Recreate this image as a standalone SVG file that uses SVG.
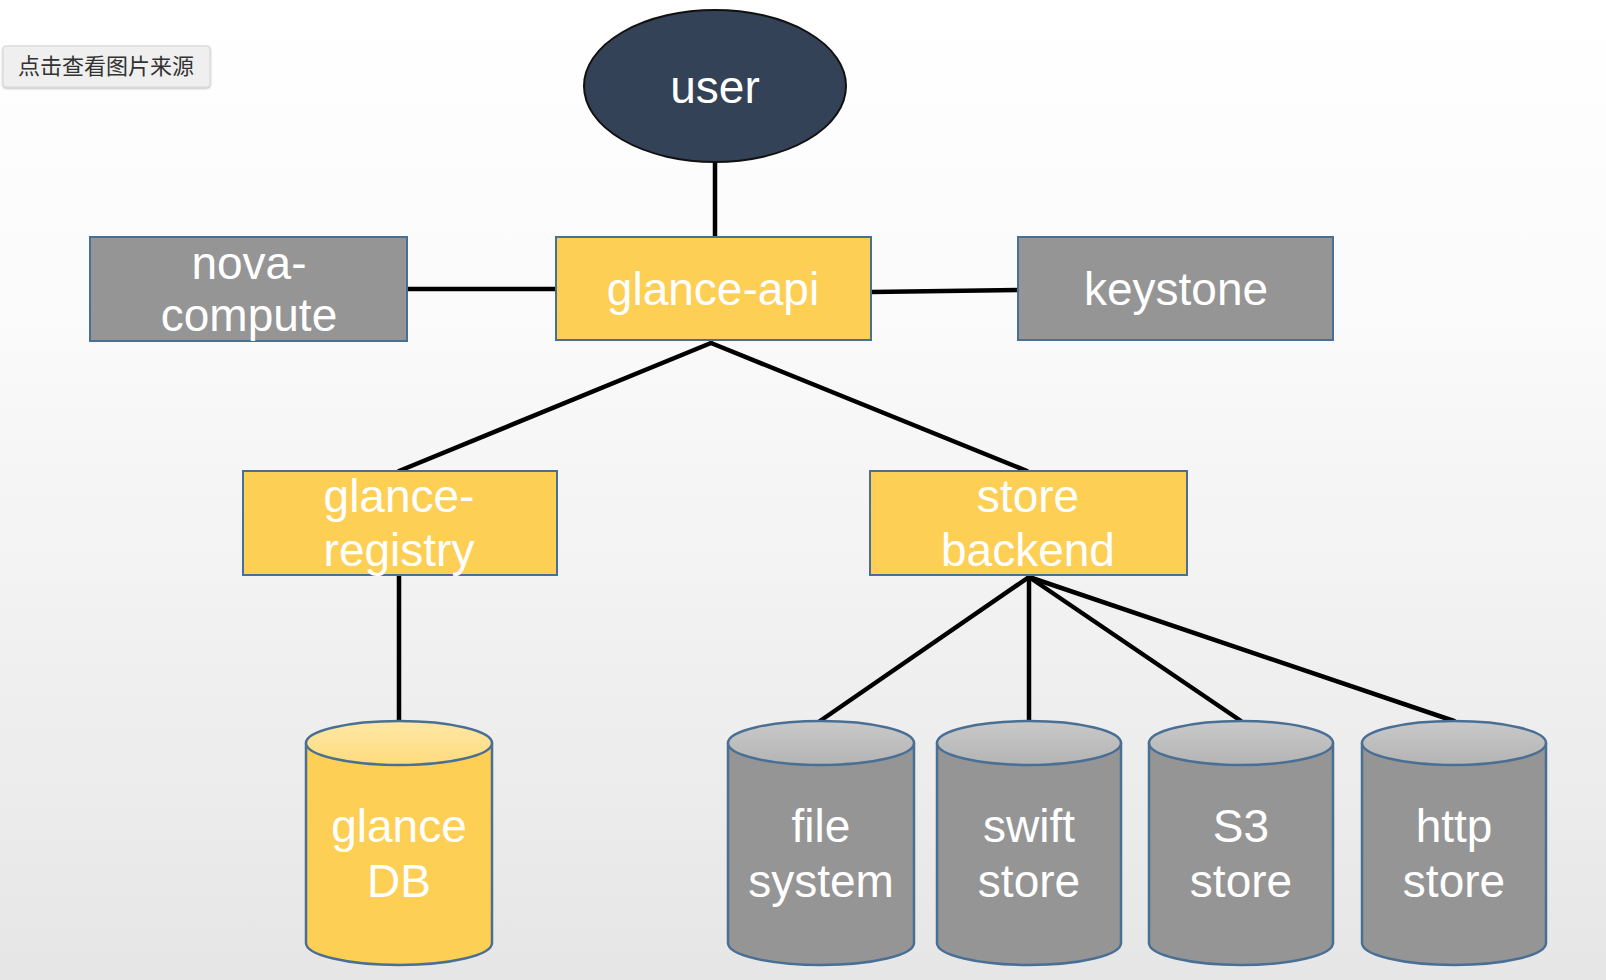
<svg xmlns="http://www.w3.org/2000/svg" width="1606" height="980" viewBox="0 0 1606 980">
<defs>
<linearGradient id="bg" x1="0" y1="0" x2="0" y2="1">
<stop offset="0" stop-color="#ffffff"/>
<stop offset="0.3" stop-color="#fbfbfb"/>
<stop offset="1" stop-color="#e6e6e6"/>
</linearGradient>
<linearGradient id="ytop" x1="0" y1="0" x2="0" y2="1">
<stop offset="0" stop-color="#ffe7a6"/>
<stop offset="1" stop-color="#fedc7c"/>
</linearGradient>
<linearGradient id="gtop" x1="0" y1="0" x2="0" y2="1">
<stop offset="0" stop-color="#c9c9c9"/>
<stop offset="1" stop-color="#b4b4b4"/>
</linearGradient>
<filter id="sh" x="-10%" y="-20%" width="120%" height="150%">
<feDropShadow dx="0" dy="1" stdDeviation="1.2" flood-color="#000" flood-opacity="0.3"/>
</filter>
</defs>
<style>
.t{font-family:"Liberation Sans",Arial,sans-serif;font-size:46px;fill:#ffffff;text-anchor:middle}
.ybox{fill:#fdcf55;stroke:#4a6f94;stroke-width:2}
.gbox{fill:#959595;stroke:#4a6f94;stroke-width:2}
.cyl{stroke:#4a6f94;stroke-width:2.5}
.ln{stroke:#000;stroke-width:4.5;fill:none;stroke-linecap:round}
.btn{font-family:"Noto Sans CJK SC","Liberation Sans",sans-serif;font-size:22px;fill:#333}
</style>
<rect width="1606" height="980" fill="url(#bg)"/>

<g id="source-button">
<rect x="3" y="46" width="207" height="41" rx="3" fill="#efefef" stroke="#d4d4d4" stroke-width="1" filter="url(#sh)"/>
<text class="btn" x="106" y="74" text-anchor="middle">点击查看图片来源</text>
</g>

<g id="connectors">
<line class="ln" x1="715" y1="159" x2="715" y2="237"/>
<line class="ln" x1="407" y1="289" x2="556" y2="289"/>
<line class="ln" x1="871" y1="292" x2="1018" y2="290"/>
<line class="ln" x1="711" y1="343" x2="399" y2="471"/>
<line class="ln" x1="711" y1="343" x2="1027" y2="471"/>
<line class="ln" x1="399" y1="576" x2="399" y2="721"/>
<line class="ln" x1="1029" y1="577" x2="820" y2="721"/>
<line class="ln" x1="1029" y1="577" x2="1029" y2="721"/>
<line class="ln" x1="1029" y1="577" x2="1241" y2="721"/>
<line class="ln" x1="1029" y1="577" x2="1454" y2="721"/>
</g>

<g id="user">
<ellipse cx="715" cy="86" rx="131" ry="76" fill="#334256" stroke="#111" stroke-width="2"/>
<text class="t" x="715" y="103">user</text>
</g>

<g id="nova-compute">
<rect class="gbox" x="90" y="237" width="317" height="104"/>
<text class="t" x="249" y="279">nova-</text>
<text class="t" x="249" y="331">compute</text>
</g>

<g id="glance-api">
<rect class="ybox" x="556" y="237" width="315" height="103"/>
<text class="t" x="713" y="305">glance-api</text>
</g>

<g id="keystone">
<rect class="gbox" x="1018" y="237" width="315" height="103"/>
<text class="t" x="1176" y="305">keystone</text>
</g>

<g id="glance-registry">
<rect class="ybox" x="243" y="471" width="314" height="104"/>
<text class="t" x="399" y="512">glance-</text>
<text class="t" x="399" y="566">registry</text>
</g>

<g id="store-backend">
<rect class="ybox" x="870" y="471" width="317" height="104"/>
<text class="t" x="1028" y="512">store</text>
<text class="t" x="1028" y="566">backend</text>
</g>

<g id="glance-db">
<path class="cyl" d="M306,743 V943 A93,22 0 0 0 492,943 V743" fill="#fdcf55"/>
<ellipse class="cyl" cx="399" cy="743" rx="93" ry="22" fill="url(#ytop)"/>
<text class="t" x="399" y="842">glance</text>
<text class="t" x="399" y="897">DB</text>
</g>

<g id="file-system">
<path class="cyl" d="M728,743 V943 A93,22 0 0 0 914,943 V743" fill="#959595"/>
<ellipse class="cyl" cx="821" cy="743" rx="93" ry="22" fill="url(#gtop)"/>
<text class="t" x="821" y="842">file</text>
<text class="t" x="821" y="897">system</text>
</g>

<g id="swift-store">
<path class="cyl" d="M937,743 V943 A92,22 0 0 0 1121,943 V743" fill="#959595"/>
<ellipse class="cyl" cx="1029" cy="743" rx="92" ry="22" fill="url(#gtop)"/>
<text class="t" x="1029" y="842">swift</text>
<text class="t" x="1029" y="897">store</text>
</g>

<g id="s3-store">
<path class="cyl" d="M1149,743 V943 A92,22 0 0 0 1333,943 V743" fill="#959595"/>
<ellipse class="cyl" cx="1241" cy="743" rx="92" ry="22" fill="url(#gtop)"/>
<text class="t" x="1241" y="842">S3</text>
<text class="t" x="1241" y="897">store</text>
</g>

<g id="http-store">
<path class="cyl" d="M1362,743 V943 A92,22 0 0 0 1546,943 V743" fill="#959595"/>
<ellipse class="cyl" cx="1454" cy="743" rx="92" ry="22" fill="url(#gtop)"/>
<text class="t" x="1454" y="842">http</text>
<text class="t" x="1454" y="897">store</text>
</g>
</svg>
